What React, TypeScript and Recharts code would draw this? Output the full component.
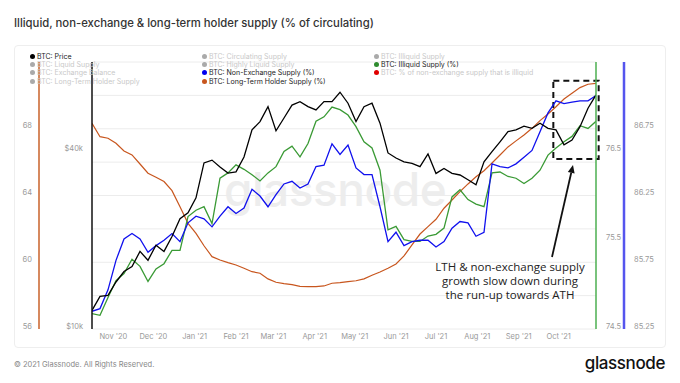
import React from 'react';
import { LineChart, Line, XAxis, YAxis, CartesianGrid, ReferenceArea, ReferenceLine } from 'recharts';

// one reading every 6 days, starting 16 Oct 2020
const STEP_DAYS = 6;

// BTC price, $k
const btcPrice = [
  11.3, 12.6, 12.7, 14.1, 15.3, 15.9, 17.9, 16.7, 18.8, 17.9, 20.1, 23.1, 24.2, 27.2, 35.7, 36.5,
  34.6, 33.0, 33.3, 37.4, 46.2, 49.3, 55.4, 45.9, 50.7, 56.1, 57.6, 55.4, 54.0, 57.6, 57.6, 62.0,
  56.9, 49.3, 55.4, 56.9, 48.7, 38.6, 37.1, 36.0, 35.6, 34.7, 38.3, 32.9, 34.2, 32.9, 32.5, 31.3,
  30.1, 36.0, 39.0, 42.1, 45.6, 46.2, 47.6, 46.8, 48.7, 46.8, 46.2, 41.1, 42.7, 47.4, 54.7, 60.7,
];

// Illiquid supply (%)
const illiquidPct = [
  74.64, 74.62, 74.82, 75.01, 75.09, 75.25, 75.17, 75.0, 75.14, 75.2, 75.35, 75.35, 75.73, 75.8, 75.84, 75.65,
  76.16, 76.22, 76.31, 76.26, 76.2, 76.13, 76.22, 76.29, 76.46, 76.52, 76.4, 76.55, 76.8, 76.85, 76.96, 76.93,
  76.87, 76.74, 76.57, 76.5, 76.25, 75.58, 75.62, 75.47, 75.45, 75.45, 75.51, 75.53, 75.6, 75.95, 76.03, 75.92,
  75.87, 75.84, 76.22, 76.23, 76.18, 76.16, 76.1, 76.16, 76.25, 76.42, 76.5, 76.57, 76.63, 76.75, 76.72, 76.8,
];

// Non-exchange supply (%)
const nonExchangePct = [
  85.36, 85.38, 85.52, 85.74, 85.9, 85.94, 85.9, 85.8, 85.85, 85.89, 85.94, 85.88, 86.02, 86.07, 86.05, 85.99,
  86.07, 86.14, 86.09, 86.13, 86.27, 86.22, 86.14, 86.23, 86.31, 86.33, 86.28, 86.31, 86.44, 86.45, 86.61, 86.53,
  86.6, 86.43, 86.38, 86.38, 86.14, 85.88, 85.95, 85.85, 85.88, 85.89, 85.89, 85.84, 85.88, 85.98, 86.03, 86.02,
  85.92, 85.95, 86.46, 86.44, 86.43, 86.46, 86.51, 86.56, 86.7, 86.84, 86.93, 86.91, 86.92, 86.93, 86.93, 86.97,
];

// Long-term holder supply (%)
const lthPct = [
  68.1, 67.3, 67.21, 66.91, 66.45, 66.21, 65.67, 65.12, 64.88, 64.62, 64.08, 63.12, 62.13, 61.53, 60.79, 60.14,
  59.94, 59.78, 59.64, 59.45, 59.24, 59.15, 58.81, 58.61, 58.53, 58.47, 58.37, 58.35, 58.35, 58.39, 58.55, 58.59,
  58.65, 58.7, 58.81, 59.03, 59.22, 59.45, 59.7, 60.18, 60.84, 61.49, 61.93, 62.37, 63.03, 63.52, 64.02, 64.48,
  64.91, 65.27, 65.73, 66.21, 66.69, 67.05, 67.4, 67.8, 68.26, 68.66, 69.09, 69.55, 69.89, 70.23, 70.43, 70.49,
];

// month starts, in days after 16 Oct 2020
const monthTicks = [16, 46, 77, 108, 136, 167, 197, 228, 258, 289, 320, 350];
const monthLabels = ["Nov '20", "Dec '20", "Jan '21", "Feb '21", "Mar '21", "Apr '21", "May '21", "Jun '21", "Jul '21", "Aug '21", "Sep '21", "Oct '21"];

const lthTicks = [56, 60, 64, 68];
const priceTicks = [10000, 40000];
const illiquidTicks = [74.5, 75.5, 76.5];
const nonExchangeTicks = [85.25, 85.75, 86.25, 86.75];
const gridTicks = [0, 1, 2, 3, 4, 5, 6, 7, 8];

const legendCols = [
  [
    { label: 'BTC: Price', dot: '#000', on: true },
    { label: 'BTC: Liquid Supply', dot: '#aaa', on: false },
    { label: 'BTC: Exchange Balance', dot: '#aaa', on: false },
    { label: 'BTC: Long-Term Holder Supply', dot: '#aaa', on: false },
  ],
  [
    { label: 'BTC: Circulating Supply', dot: '#aaa', on: false },
    { label: 'BTC: Highly Liquid Supply', dot: '#aaa', on: false },
    { label: 'BTC: Non-Exchange Supply (%)', dot: '#0000f0', on: true },
    { label: 'BTC: Long-Term Holder Supply (%)', dot: '#c8561e', on: true },
  ],
  [
    { label: 'BTC: Illiquid Supply', dot: '#aaa', on: false },
    { label: 'BTC: Illiquid Supply (%)', dot: '#2e8b2e', on: true },
    { label: 'BTC: % of non-exchange supply that is illiquid', dot: '#e00000', on: false },
  ],
];

const data = btcPrice.map((p, i) => ({
  day: i * STEP_DAYS,
  price: p * 1000,
  illiquid: illiquidPct[i],
  nonExchange: nonExchangePct[i],
  lth: lthPct[i],
}));

const tickStyle = { fontSize: 7.5, fill: '#999', fontFamily: 'Inter' };

const Arrow = (p: any) => {
  const { x1, y1, x2, y2 } = p;
  const ang = Math.atan2(y2 - y1, x2 - x1);
  const len = 8;
  const w = 3.5;
  const bx = x2 - len * Math.cos(ang);
  const by = y2 - len * Math.sin(ang);
  const pts = `${x2},${y2} ${bx - w * Math.sin(ang)},${by + w * Math.cos(ang)} ${bx + w * Math.sin(ang)},${by - w * Math.cos(ang)}`;
  return (
    <g>
      <line x1={x1} y1={y1} x2={bx} y2={by} stroke="#111" strokeWidth={1.8} />
      <polygon points={pts} fill="#111" />
    </g>
  );
};

// axis ids are laid out by id order on each side: "btc" ends up next to the plot, "lth" outside it
export default function App() {
  return (
    <div style={{ position: 'absolute', left: 0, top: 0, width: 680, height: 383, background: '#fff', fontFamily: 'Inter, sans-serif', overflow: 'hidden' }}>
      <div style={{ position: 'absolute', left: 14, top: 16, fontSize: 11.3, fontWeight: 500, color: '#333', whiteSpace: 'nowrap' }}>
        Illiquid, non-exchange &amp; long-term holder supply (% of circulating)
      </div>

      {/* card */}
      <div style={{ position: 'absolute', left: 14, top: 45, width: 650, height: 301, border: '1px solid #eee', borderRadius: 4 }} />

      {/* watermark */}
      <div style={{ position: 'absolute', left: 224, top: 161, fontSize: 46, fontWeight: 500, color: '#ededed', letterSpacing: -0.5 }}>glassnode</div>

      <div style={{ position: 'absolute', left: 0, top: 0 }}>
        <LineChart width={680} height={383} data={data} margin={{ top: 62, right: 16, bottom: 34, left: 14 }}>
          <XAxis
            dataKey="day"
            type="number"
            domain={[0, 378]}
            ticks={monthTicks}
            tickFormatter={(v: number) => monthLabels[monthTicks.indexOf(v)]}
            axisLine={false}
            tickLine={false}
            tickSize={0}
            tickMargin={5}
            height={20}
            tick={tickStyle}
            allowDataOverflow
          />
          <YAxis
            yAxisId="btc"
            orientation="left"
            scale="log"
            domain={[9769, 78500]}
            ticks={priceTicks}
            tickFormatter={(v: number) => `$${v / 1000}k`}
            width={53}
            axisLine={{ stroke: '#111', strokeWidth: 1.5 }}
            tickLine={false}
            tickSize={0}
            tickMargin={9}
            tick={tickStyle}
            allowDataOverflow
          />
          <YAxis
            yAxisId="lth"
            orientation="left"
            domain={[55.82, 71.76]}
            ticks={lthTicks}
            width={25}
            axisLine={{ stroke: '#c8622a', strokeWidth: 1.5 }}
            tickLine={false}
            tickSize={0}
            tickMargin={7}
            tick={tickStyle}
            allowDataOverflow
          />
          <YAxis
            yAxisId="illiquid"
            orientation="right"
            domain={[74.466, 77.466]}
            ticks={illiquidTicks}
            width={28}
            axisLine={{ stroke: '#4caf50', strokeWidth: 1.5 }}
            tickLine={false}
            tickSize={0}
            tickMargin={10}
            tick={tickStyle}
            allowDataOverflow
          />
          <YAxis
            yAxisId="nonExchange"
            orientation="right"
            domain={[85.228, 87.22]}
            ticks={nonExchangeTicks}
            width={40}
            axisLine={{ stroke: '#5555ee', strokeWidth: 2.5 }}
            tickLine={false}
            tickSize={0}
            tickMargin={10}
            tick={tickStyle}
            allowDataOverflow
          />
          <YAxis yAxisId="grid" orientation="right" hide width={0} domain={[0, 8]} ticks={gridTicks} allowDataOverflow />
          <CartesianGrid yAxisId="grid" vertical={false} stroke="#ececec" />

          <Line yAxisId="lth" dataKey="lth" stroke="#c8561e" strokeWidth={1.2} dot={false} isAnimationActive={false} />
          <Line yAxisId="illiquid" dataKey="illiquid" stroke="#3a9a35" strokeWidth={1.3} dot={false} isAnimationActive={false} />
          <Line yAxisId="nonExchange" dataKey="nonExchange" stroke="#1010ee" strokeWidth={1.3} dot={false} isAnimationActive={false} />
          <Line yAxisId="btc" dataKey="price" stroke="#000" strokeWidth={1.3} dot={false} isAnimationActive={false} />

          <ReferenceArea
            yAxisId="illiquid"
            x1={346}
            x2={380}
            y1={76.376}
            y2={77.256}
            fill="none"
            fillOpacity={0}
            stroke="#111"
            strokeWidth={2}
            strokeDasharray="6 4"
            ifOverflow="visible"
          />
          <ReferenceLine
            yAxisId="illiquid"
            segment={[{ x: 345, y: 75.275 }, { x: 360.75, y: 76.31 }]}
            shape={Arrow}
            ifOverflow="visible"
          />
        </LineChart>
      </div>

      {/* legend */}
      {legendCols.map((col, ci) => (
        <div key={ci} style={{ position: 'absolute', left: [30, 202, 374][ci], top: 52 }}>
          {col.map((item) => (
            <div key={item.label} style={{ display: 'flex', alignItems: 'center', height: 8.4, fontSize: 7, color: item.on ? '#222' : '#c8c8c8', whiteSpace: 'nowrap' }}>
              <span style={{ width: 5, height: 5, borderRadius: '50%', background: item.dot, marginRight: 2, display: 'inline-block' }} />
              {item.label}
            </div>
          ))}
        </div>
      ))}

      {/* annotation */}
      <div style={{ position: 'absolute', left: 420, top: 260, width: 180, textAlign: 'center', fontFamily: 'Open Sans', fontSize: 11.5, lineHeight: '13.8px', color: '#222' }}>
        LTH &amp; non-exchange supply
        <br />
        growth slow down during
        <br />
        the run-up towards ATH
      </div>

      {/* footer */}
      <div style={{ position: 'absolute', left: 14, top: 360, fontSize: 7.5, color: '#888' }}>© 2021 Glassnode. All Rights Reserved.</div>
      <div style={{ position: 'absolute', right: 15, top: 353, fontSize: 17, fontWeight: 500, color: '#111', letterSpacing: -0.4 }}>glassnode</div>
    </div>
  );
}
